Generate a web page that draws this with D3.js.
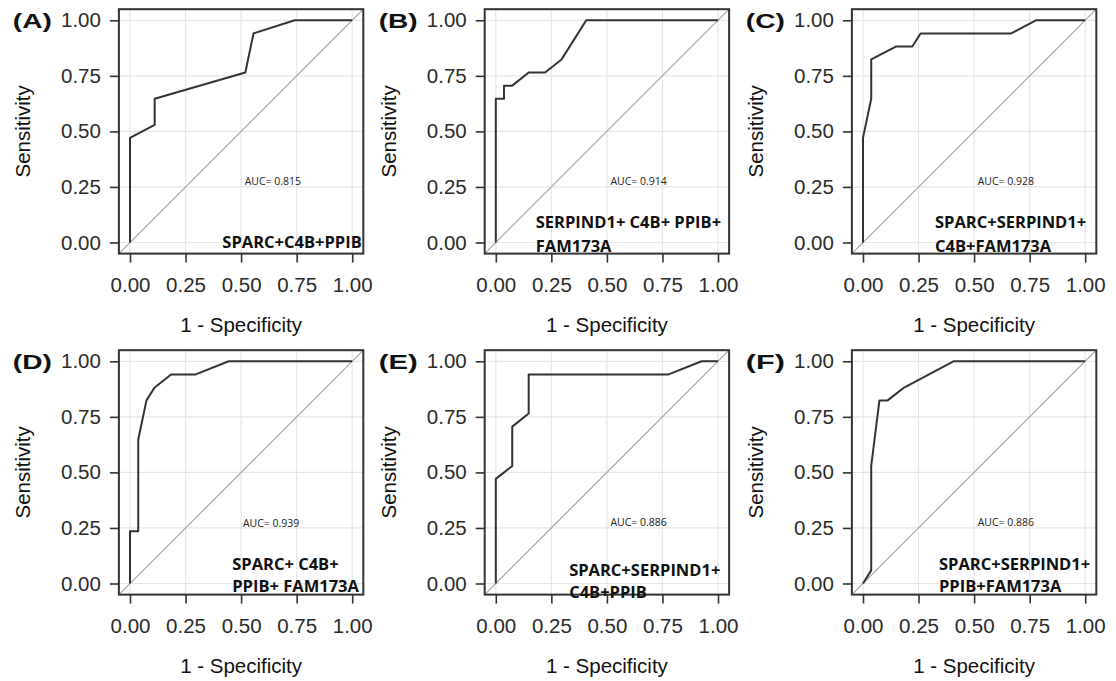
<!DOCTYPE html>
<html>
<head>
<meta charset="utf-8">
<script src="https://cdn.jsdelivr.net/npm/d3@7"></script>
<style>
  html, body { margin: 0; padding: 0; background: #fff; }
  svg { display: block; }
</style>
</head>
<body>
<svg id="chart" width="1116" height="681"></svg>
<script>
// Panel tags and model names
const panelTags = ["(A)", "(B)", "(C)", "(D)", "(E)", "(F)"];
const modelLines = [
  ["SPARC+C4B+PPIB"],
  ["SERPIND1+ C4B+ PPIB+", "FAM173A"],
  ["SPARC+SERPIND1+", "C4B+FAM173A"],
  ["SPARC+ C4B+", "PPIB+ FAM173A"],
  ["SPARC+SERPIND1+", "C4B+PPIB"],
  ["SPARC+SERPIND1+", "PPIB+FAM173A"]
];
const aucValues = ["0.815", "0.914", "0.928", "0.939", "0.886", "0.886"];
const axisTicks = [0, 0.25, 0.5, 0.75, 1];

// ROC coordinates: false positive rate (1 - specificity) and sensitivity
const fprA = [0, 0, 0.111, 0.111, 0.519, 0.556, 0.741, 1];
const tprA = [0, 0.471, 0.529, 0.647, 0.765, 0.941, 1, 1];
const fprB = [0, 0, 0.037, 0.037, 0.074, 0.148, 0.222, 0.296, 0.407, 1];
const tprB = [0, 0.647, 0.647, 0.706, 0.706, 0.765, 0.765, 0.824, 1, 1];
const fprC = [0, 0, 0.037, 0.037, 0.148, 0.222, 0.259, 0.667, 0.778, 1];
const tprC = [0, 0.471, 0.647, 0.824, 0.882, 0.882, 0.941, 0.941, 1, 1];
const fprD = [0, 0, 0.037, 0.037, 0.074, 0.111, 0.185, 0.296, 0.444, 1];
const tprD = [0, 0.235, 0.235, 0.647, 0.824, 0.882, 0.941, 0.941, 1, 1];
const fprE = [0, 0, 0.074, 0.074, 0.148, 0.148, 0.778, 0.926, 1];
const tprE = [0, 0.471, 0.529, 0.706, 0.765, 0.941, 0.941, 1, 1];
const fprF = [0, 0.037, 0.037, 0.074, 0.111, 0.185, 0.407, 1];
const tprF = [0, 0.059, 0.529, 0.824, 0.824, 0.882, 1, 1];

const fprList = [fprA, fprB, fprC, fprD, fprE, fprF];
const tprList = [tprA, tprB, tprC, tprD, tprE, tprF];

// Placement of the AUC note and the model name inside each panel (data units)
const aucPos = [[0.643, 0.258], [0.643, 0.26], [0.643, 0.258], [0.635, 0.255], [0.643, 0.26], [0.643, 0.26]];
const namePos = [
  { x: 1.043, anchor: "end", ys: [-0.023] },
  { x: 0.18, anchor: "start", ys: [0.067, -0.042] },
  { x: 0.324, anchor: "start", ys: [0.066, -0.042] },
  { x: 0.46, anchor: "start", ys: [0.063, -0.04] },
  { x: 0.33, anchor: "start", ys: [0.034, -0.065] },
  { x: 0.342, anchor: "start", ys: [0.062, -0.038] }
];

const svg = d3.select("#chart");
svg.append("rect").attr("width", 1116).attr("height", 681).attr("fill", "#fff");

const colX0 = [130, 495.8, 863];
const rowY1 = [20.3, 361.3];
const unit = 222.2;
const tickFont = "'Liberation Sans', Arial, Helvetica, sans-serif";
const noteFont = "'Open Sans', 'Noto Sans', sans-serif";

panelTags.forEach((tag, i) => {
  const col = i % 3, row = Math.floor(i / 3);
  const x0 = colX0[col], y1 = rowY1[row];
  const x = d3.scaleLinear().domain([-0.05, 1.05]).range([x0 - 0.05 * unit, x0 + 1.05 * unit]);
  const y = d3.scaleLinear().domain([-0.05, 1.05]).range([y1 + 1.05 * unit, y1 - 0.05 * unit]);
  const [L, R] = x.range();
  const [B, T] = y.range();
  const g = svg.append("g");

  // grid
  g.selectAll(".gx").data(axisTicks).join("line")
    .attr("x1", d => x(d)).attr("x2", d => x(d)).attr("y1", T).attr("y2", B)
    .attr("stroke", "#e6e6e6").attr("stroke-width", 1.2);
  g.selectAll(".gy").data(axisTicks).join("line")
    .attr("y1", d => y(d)).attr("y2", d => y(d)).attr("x1", L).attr("x2", R)
    .attr("stroke", "#e6e6e6").attr("stroke-width", 1.2);

  // reference diagonal
  g.append("line")
    .attr("x1", x(-0.05)).attr("y1", y(-0.05)).attr("x2", x(1.05)).attr("y2", y(1.05))
    .attr("stroke", "#a0a0a0").attr("stroke-width", 1.1);

  // ROC curve
  const pts = fprList[i].map((f, k) => [f, tprList[i][k]]);
  g.append("path")
    .datum(pts)
    .attr("d", d3.line().x(d => x(d[0])).y(d => y(d[1])))
    .attr("fill", "none").attr("stroke", "#333").attr("stroke-width", 2)
    .attr("stroke-linejoin", "round");

  // panel border
  g.append("rect")
    .attr("x", L).attr("y", T).attr("width", R - L).attr("height", B - T)
    .attr("fill", "none").attr("stroke", "#333").attr("stroke-width", 2);

  // axes
  const fmt = d3.format(".2f");
  const ax = g.append("g").attr("transform", `translate(0,${B})`)
    .call(d3.axisBottom(x).tickValues(axisTicks).tickFormat(fmt).tickSize(9).tickPadding(14.4));
  const ay = g.append("g").attr("transform", `translate(${L},0)`)
    .call(d3.axisLeft(y).tickValues(axisTicks).tickFormat(fmt).tickSize(9).tickPadding(9));
  [ax, ay].forEach(a => {
    a.select(".domain").remove();
    a.selectAll(".tick line").attr("stroke", "#333").attr("stroke-width", 1.6);
    a.selectAll(".tick text").attr("fill", "#2b2b2b")
      .style("font-family", tickFont).style("font-size", "20.5px");
  });

  // axis titles
  g.append("text")
    .attr("x", (L + R) / 2).attr("y", B + 78)
    .attr("text-anchor", "middle")
    .style("font-family", tickFont).style("font-size", "20.5px").attr("fill", "#111")
    .text("1 - Specificity");
  g.append("text")
    .attr("transform", `translate(${L - 96},${(T + B) / 2}) rotate(-90)`)
    .attr("text-anchor", "middle").attr("dy", "0.35em")
    .style("font-family", tickFont).style("font-size", "20.5px").attr("fill", "#111")
    .text("Sensitivity");

  // panel tag
  g.append("text")
    .attr("x", L - 106).attr("y", y(1) + 7.5)
    .attr("textLength", 39).attr("lengthAdjust", "spacingAndGlyphs")
    .style("font-family", tickFont).style("font-size", "21px").style("font-weight", "bold")
    .attr("fill", "#111")
    .text(tag);

  // AUC note
  g.append("text")
    .attr("x", x(aucPos[i][0])).attr("y", y(aucPos[i][1]))
    .attr("text-anchor", "middle")
    .style("font-family", noteFont).style("font-size", "10.5px").attr("fill", "#222")
    .text("AUC= " + aucValues[i]);

  // model name
  const np = namePos[i];
  modelLines[i].forEach((line, k) => {
    g.append("text")
      .attr("x", x(np.x)).attr("y", y(np.ys[k]))
      .attr("text-anchor", np.anchor)
      .style("font-family", noteFont).style("font-size", "16.5px").style("font-weight", "700")
      .attr("fill", "#111")
      .text(line);
  });
});
</script>
</body>
</html>
